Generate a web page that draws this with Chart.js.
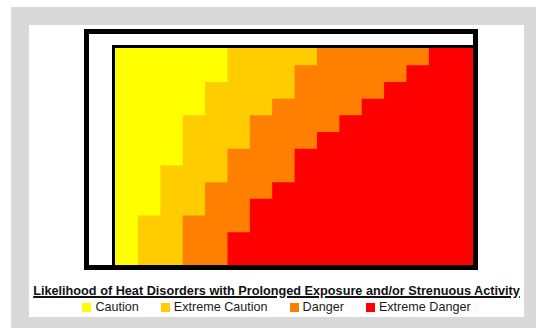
<!DOCTYPE html>
<html>
<head>
<meta charset="utf-8">
<script src="https://cdn.jsdelivr.net/npm/chart.js@4/dist/chart.umd.min.js"></script>
<style>
  html, body { margin: 0; padding: 0; background: #ffffff; width: 536px; height: 328px; overflow: hidden; }
  #gray { position: absolute; left: 11px; top: 7px; width: 525px; height: 321px; background: #d9d9d9; }
  #panel { position: absolute; left: 29px; top: 25px; width: 495px; height: 292px; background: #ffffff; }
  #frame { position: absolute; left: 84px; top: 29px; width: 394px; height: 241px; border: 5px solid #000; box-sizing: border-box; background: #fff; }
  #wrap { position: absolute; left: 89px; top: 34px; width: 384px; height: 231px; }
  #title { position: absolute; left: 29px; width: 495px; top: 284px; text-align: center;
           font: bold 12.7px "Liberation Sans", Arial, sans-serif; line-height: 14px; color: #111;
           text-decoration: underline; text-decoration-thickness: 1.5px; white-space: nowrap; }
  #legend { position: absolute; left: 29px; width: 495px; top: 300px; display: flex; justify-content: center;
            font: 12.6px "Liberation Sans", Arial, sans-serif; line-height: 14px; color: #1a1a1a; white-space: nowrap; }
  .item { display: flex; align-items: center; margin: 0 11px; }
  .sw { width: 9px; height: 9px; margin-right: 4px; }
</style>
</head>
<body>
<div id="gray"></div>
<div id="panel"></div>
<div id="frame"></div>
<div id="wrap"><canvas id="c" width="384" height="231"></canvas></div>
<div id="title"></div>
<div id="legend"></div>
<script>
// Relative humidity rows (top to bottom) and temperature columns (80..110 F, step 2)
const humidityLabels = ['40%','45%','50%','55%','60%','65%','70%','75%','80%','85%','90%','95%','100%'];
const temperatureLabels = ['80','82','84','86','88','90','92','94','96','98','100','102','104','106','108','110'];
// Number of temperature columns in each category, per humidity row
const caution        = [5,5,4,4,3,3,3,2,2,2,1,1,1];
const extremeCaution = [4,3,4,3,3,3,2,3,2,2,2,2,2];
const danger         = [5,5,4,4,4,3,3,3,3,2,3,2,2];
const extremeDanger  = [2,3,4,5,6,7,8,8,9,10,10,11,11];
const categoryNames  = ['Caution','Extreme Caution','Danger','Extreme Danger'];
const categoryColors = ['#ffff00','#ffcc00','#ff8000','#ff0000'];
const legendTitle = 'Likelihood of Heat Disorders with Prolonged Exposure and/or Strenuous Activity';

const series = [caution, extremeCaution, danger, extremeDanger];

const plotBorder = {
  id: 'plotBorder',
  afterDatasetsDraw(chart) {
    const a = chart.chartArea, ctx = chart.ctx;
    ctx.save();
    ctx.fillStyle = '#000';
    ctx.fillRect(a.left - 3, a.top - 3, 3, a.bottom - a.top + 3);
    ctx.fillRect(a.left - 3, a.top - 3, a.right - a.left + 3, 3);
    ctx.restore();
  }
};

new Chart(document.getElementById('c'), {
  type: 'bar',
  data: {
    labels: humidityLabels,
    datasets: series.map((d, i) => ({
      label: categoryNames[i],
      data: d,
      backgroundColor: categoryColors[i],
      borderWidth: 0,
      inflateAmount: 0.6,
      barPercentage: 1,
      categoryPercentage: 1
    }))
  },
  options: {
    indexAxis: 'y',
    responsive: false,
    animation: false,
    layout: { padding: { left: 26, top: 14, right: 0, bottom: 0 } },
    plugins: { legend: { display: false }, tooltip: { enabled: false } },
    scales: {
      x: { stacked: true, min: 0, max: temperatureLabels.length, display: false },
      y: { stacked: true, display: false }
    }
  },
  plugins: [plotBorder]
});

document.getElementById('title').textContent = legendTitle;
const leg = document.getElementById('legend');
categoryNames.forEach((n, i) => {
  const it = document.createElement('div'); it.className = 'item';
  const sw = document.createElement('div'); sw.className = 'sw'; sw.style.background = categoryColors[i];
  const tx = document.createElement('span'); tx.textContent = n;
  it.appendChild(sw); it.appendChild(tx); leg.appendChild(it);
});
</script>
</body>
</html>
